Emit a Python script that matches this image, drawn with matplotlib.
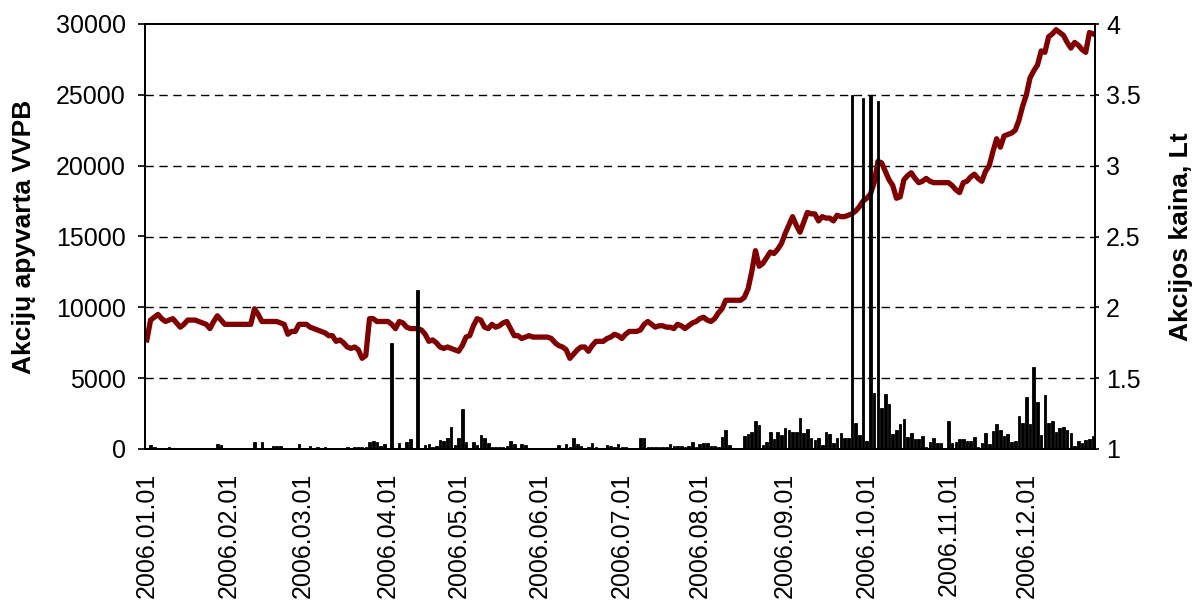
#=======================#
# Libraries importation #
#=======================#

import matplotlib
matplotlib.use("Agg")
import matplotlib.pyplot as plt
import numpy as np

#==================#
# Global variables #
#==================#

BAR_COLOR = "black"
LINE_COLOR = "#800000"
FONT = "Liberation Sans"

plt.rcParams["font.family"] = [FONT, "DejaVu Sans"]

# month labels (first trading day of each month)
MONTH_LABELS = ["2006.01.01", "2006.02.01", "2006.03.01", "2006.04.01",
                "2006.05.01", "2006.06.01", "2006.07.01", "2006.08.01",
                "2006.09.01", "2006.10.01", "2006.11.01", "2006.12.01"]

# share price, Lt (one value per trading day)
price_jan = [1.77, 1.91, 1.93, 1.95, 1.92, 1.90, 1.91, 1.92, 1.89, 1.86, 1.88,
             1.91, 1.91, 1.91, 1.90, 1.89, 1.88, 1.85, 1.90, 1.94, 1.91, 1.88]
price_feb = [1.88, 1.88, 1.88, 1.88, 1.88, 1.88, 1.88, 1.99, 1.95, 1.90,
             1.90, 1.90, 1.90, 1.90, 1.89, 1.88, 1.81, 1.83, 1.83, 1.88]
price_mar = [1.88, 1.88, 1.86, 1.85, 1.84, 1.83, 1.82, 1.80, 1.80, 1.76, 1.77, 1.75,
             1.72, 1.71, 1.72, 1.70, 1.64, 1.66, 1.92, 1.92, 1.90, 1.90, 1.90]
price_apr = [1.90, 1.88, 1.85, 1.90, 1.89, 1.86, 1.85, 1.85, 1.85, 1.84,
             1.81, 1.76, 1.77, 1.75, 1.72, 1.71, 1.72, 1.71, 1.70]
price_may = [1.69, 1.73, 1.79, 1.80, 1.87, 1.92, 1.91, 1.86, 1.85, 1.88, 1.86,
             1.87, 1.89, 1.90, 1.85, 1.80, 1.80, 1.78, 1.79, 1.80, 1.79, 1.79]
price_jun = [1.79, 1.79, 1.79, 1.78, 1.75, 1.73, 1.72, 1.70, 1.64, 1.67, 1.70,
             1.72, 1.72, 1.69, 1.73, 1.76, 1.76, 1.76, 1.78, 1.79, 1.81, 1.80]
price_jul = [1.78, 1.81, 1.83, 1.83, 1.83, 1.84, 1.88, 1.90, 1.88, 1.86, 1.87,
             1.87, 1.86, 1.86, 1.85, 1.88, 1.87, 1.85, 1.87, 1.89, 1.90]
price_aug = [1.92, 1.93, 1.91, 1.90, 1.92, 1.96, 1.99, 2.05, 2.05, 2.05, 2.05, 2.05,
             2.07, 2.13, 2.25, 2.40, 2.29, 2.31, 2.35, 2.39, 2.38, 2.41, 2.45]
price_sep = [2.52, 2.58, 2.64, 2.58, 2.53, 2.60, 2.67, 2.66, 2.66, 2.61, 2.64,
             2.63, 2.63, 2.61, 2.65, 2.64, 2.64, 2.65, 2.66, 2.68, 2.71, 2.75]
price_oct = [2.77, 2.80, 2.88, 3.03, 3.02, 2.96, 2.90, 2.86, 2.77, 2.78, 2.90,
             2.93, 2.95, 2.91, 2.88, 2.89, 2.91, 2.89, 2.88, 2.88, 2.88, 2.88]
price_nov = [2.88, 2.86, 2.83, 2.81, 2.88, 2.89, 2.92, 2.94, 2.91, 2.89, 2.96,
             3.00, 3.10, 3.19, 3.13, 3.21, 3.22, 3.23, 3.25, 3.32, 3.42]
price_dec = [3.50, 3.62, 3.67, 3.71, 3.81, 3.80, 3.91, 3.93, 3.96, 3.94,
             3.92, 3.87, 3.83, 3.87, 3.85, 3.82, 3.80, 3.94, 3.93]

# turnover, VVPB (one value per trading day)
turn_jan = [80, 280, 160, 60, 50, 40, 160, 60, 30, 20, 40,
            90, 90, 80, 40, 90, 60, 100, 80, 330, 300, 60]
turn_feb = [0, 0, 0, 0, 0, 0, 50, 520, 100, 470,
            60, 40, 200, 180, 210, 60, 90, 40, 60, 330]
turn_mar = [60, 80, 200, 60, 160, 50, 160, 40, 60, 80, 100, 100,
            120, 100, 160, 160, 160, 130, 470, 560, 500, 220, 330]
turn_apr = [100, 7450, 50, 400, 100, 520, 680, 50, 11200, 100,
            280, 330, 160, 200, 630, 560, 800, 1530, 280]
turn_may = [800, 2820, 520, 100, 520, 280, 990, 750, 400, 140, 140,
            120, 140, 200, 560, 330, 100, 330, 250, 100, 80, 80]
turn_jun = [60, 40, 60, 80, 100, 280, 100, 330, 120, 800, 330,
            180, 100, 120, 400, 140, 100, 100, 280, 200, 150, 330]
turn_jul = [160, 160, 100, 100, 60, 750, 800, 160, 140, 120, 160,
            120, 160, 330, 200, 200, 200, 160, 200, 470, 140]
turn_aug = [330, 400, 400, 200, 200, 160, 870, 1340, 280, 50, 100, 80,
            920, 1030, 1180, 2000, 1690, 280, 520, 1180, 700, 1180, 990]
turn_sep = [1460, 1340, 1220, 1220, 2160, 1100, 1410, 800, 630, 750, 280,
            1180, 1030, 400, 750, 1100, 750, 750, 25000, 1810, 960, 24800]
turn_oct = [600, 25000, 3950, 24600, 2900, 3880, 3180, 1060, 1340, 1760, 2120,
            850, 1130, 710, 740, 920, 140, 490, 780, 420, 400, 50]
turn_nov = [1980, 420, 490, 700, 700, 530, 530, 850, 140, 450, 1130,
            350, 1270, 1760, 1340, 920, 1060, 490, 600, 2330, 1830]
turn_dec = [3670, 1760, 5790, 3320, 990, 3810, 1830, 1970, 1170, 1500,
            1580, 1340, 1130, 210, 600, 420, 640, 700, 920]

price_months = [price_jan, price_feb, price_mar, price_apr, price_may, price_jun,
                price_jul, price_aug, price_sep, price_oct, price_nov, price_dec]
turn_months = [turn_jan, turn_feb, turn_mar, turn_apr, turn_may, turn_jun,
               turn_jul, turn_aug, turn_sep, turn_oct, turn_nov, turn_dec]

price = np.concatenate(price_months)
turnover = np.concatenate(turn_months)
month_starts = np.cumsum([0] + [len(m) for m in turn_months[:-1]])

#==========#
# Plotting #
#==========#

fig = plt.figure(figsize=(11.94, 6.0), dpi=100)
W, H = 1194, 600
ax = fig.add_axes([145 / W, 1 - 449 / H, 950 / W, 425 / H])
ax2 = ax.twinx()

# price line goes under the bars
ax.set_zorder(ax2.get_zorder() + 1)
ax.patch.set_visible(False)

ax2.plot(np.arange(len(price)), price, color=LINE_COLOR, linewidth=3.8,
         solid_joinstyle="round", zorder=3)
ax.bar(np.arange(len(turnover)), turnover, width=0.7, color=BAR_COLOR,
       edgecolor=BAR_COLOR, linewidth=0.6, zorder=3)

ax.set_xlim(-0.5, len(turnover) - 0.5)
ax.set_ylim(0, 30000)
ax.set_yticks(np.arange(0, 30001, 5000))
ax2.set_ylim(1, 4)
ax2.set_yticks([1, 1.5, 2, 2.5, 3, 3.5, 4])
ax2.set_yticklabels(["1", "1.5", "2", "2.5", "3", "3.5", "4"])

# dashed grid
for v in [1.5, 2, 2.5, 3, 3.5]:
    ax2.axhline(v, color="black", linewidth=1.0, dashes=(6, 4), zorder=1)

ax.set_xticks(month_starts)
ax.set_xticklabels(MONTH_LABELS, rotation=90, va="top", ha="center")

ax.tick_params(axis="x", length=0, pad=17, labelsize=18)
ax.tick_params(axis="y", direction="out", length=5, width=1.2, pad=9, labelsize=18)
ax2.tick_params(axis="y", direction="out", length=3, width=1.2, pad=5, labelsize=18)

for a in (ax, ax2):
    for s in a.spines.values():
        s.set_linewidth(1.4)
        s.set_color("black")

ax.set_ylabel("Akcijų apyvarta VVPB", fontsize=19, fontweight="bold", labelpad=14)
ax2.set_ylabel("Akcijos kaina, Lt", fontsize=19, fontweight="bold", labelpad=20)

fig.savefig("out.png", dpi=100)
